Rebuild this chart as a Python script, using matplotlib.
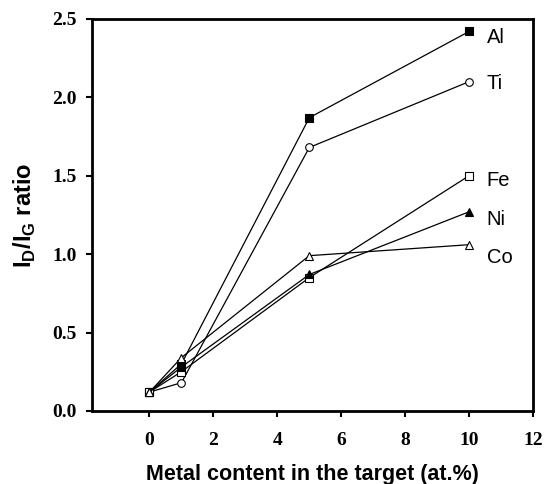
import matplotlib.pyplot as plt

plt.rcParams['mathtext.fontset'] = 'custom'
plt.rcParams['mathtext.rm'] = 'Liberation Sans:bold'
plt.rcParams['mathtext.bf'] = 'Liberation Sans:bold'

metal_content = [0, 1, 5, 10]
al = [0.12, 0.30, 1.87, 2.42]
ti = [0.12, 0.18, 1.68, 2.10]
fe = [0.12, 0.25, 0.85, 1.50]
ni = [0.12, 0.28, 0.87, 1.27]
co = [0.12, 0.34, 0.99, 1.06]

names = ['Al', 'Ti', 'Fe', 'Ni', 'Co']
label_y = [2.38, 2.09, 1.47, 1.22, 0.98]

fig = plt.figure(figsize=(5.44, 4.84), dpi=100)
ax = fig.add_axes([0.169, 0.151, 0.811, 0.810])

styles = [('s', 'black'), ('o', 'white'), ('s', 'white'), ('^', 'black'), ('^', 'white')]
for ys, (m, fc) in zip([al, ti, fe, ni, co], styles):
    ax.plot(metal_content, ys, color='black', lw=0.9, marker=m, ms=5.5,
            mfc=fc, mec='black', mew=0.8)

for name, y in zip(names, label_y):
    ax.text(10.55, y, name, fontsize=14.5, family='Liberation Sans', va='center')

ax.set_xlim(-1.8, 12)
ax.set_ylim(0, 2.5)
ax.set_xticks([0, 2, 4, 6, 8, 10, 12])
ax.set_yticks([0.0, 0.5, 1.0, 1.5, 2.0, 2.5])
ax.set_yticklabels(['0.0', '0.5', '1.0', '1.5', '2.0', '2.5'])
for lbl in ax.get_xticklabels() + ax.get_yticklabels():
    lbl.set_family('Liberation Serif')
    lbl.set_fontweight('bold')
    lbl.set_fontsize(14)
ax.tick_params(direction='out', length=4, width=1.5)
ax.tick_params(axis='x', pad=11)
ax.tick_params(axis='y', pad=7)

for side in ['left', 'bottom', 'right', 'top']:
    ax.spines[side].set_linewidth(2)

ax.set_xlabel('Metal content in the target (at.%)', fontsize=15.5,
              family='Liberation Sans', fontweight='bold', labelpad=11)
ax.set_ylabel(r'I$_\mathrm{D}$/I$_\mathrm{G}$ ratio', fontsize=17,
              family='Liberation Sans', fontweight='bold', labelpad=10)

fig.savefig('out.png', dpi=100)
